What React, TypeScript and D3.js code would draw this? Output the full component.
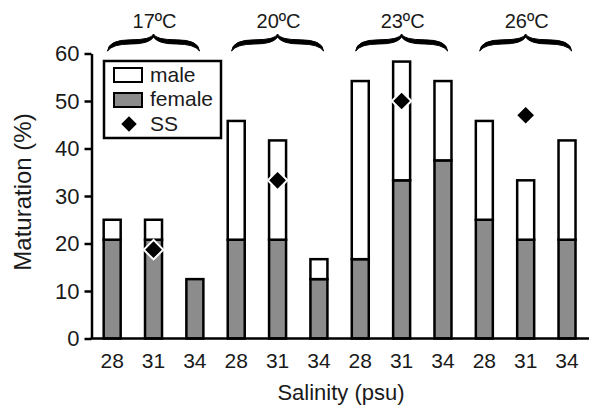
import { axisLeft, scaleBand, scaleLinear, select, symbol, symbolSquare } from 'd3';
import { useEffect, useRef } from 'react';

// groups of bars: temperature x salinity
const temps = ['17ºC', '20ºC', '23ºC', '26ºC'];
const salinities = ['28', '31', '34'];
// % mature, stacked: female at the bottom, male on top
const female = [20.8, 20.8, 12.5, 20.8, 20.8, 12.5, 16.7, 33.3, 37.5, 25, 20.8, 20.8];
const male = [4.2, 4.2, 0, 25, 20.9, 4.2, 37.5, 25, 16.7, 20.8, 12.5, 20.9];
// SS markers, only at salinity 31
const ssValues = [18.7, 33.3, 50, 47];
const yTicks = [0, 10, 20, 30, 40, 50, 60];

const W = 589;
const H = 410;
const FONT = '"Liberation Sans", Arial, sans-serif';

const keys = temps.flatMap((t) => salinities.map((s) => `${t}-${s}`));

const bracePath = (x1, x2) => {
  const mid = (x1 + x2) / 2;
  const q = (x2 - x1) / 4;
  const y0 = 51;
  const y1 = 42;
  const y2 = 34;
  return [
    `M${x1},${y0}`,
    `Q${x1 + 1},${y1 - 2.2} ${x1 + q},${y1 - 2.2}`,
    `Q${mid - 2},${y1 - 2.2} ${mid},${y2}`,
    `Q${mid + 2},${y1 - 2.2} ${x2 - q},${y1 - 2.2}`,
    `Q${x2 - 1},${y1 - 2.2} ${x2},${y0}`,
    `Q${x2 - 5},${y1 + 2} ${x2 - q},${y1 + 2}`,
    `Q${mid + 4},${y1 + 2} ${mid},${y2 + 3}`,
    `Q${mid - 4},${y1 + 2} ${x1 + q},${y1 + 2}`,
    `Q${x1 + 5},${y1 + 2} ${x1},${y0}`,
    'Z',
  ].join(' ');
};

const App = () => {
  const svgRef = useRef(null);

  useEffect(() => {
    const svg = select(svgRef.current);
    svg.selectAll('*').remove();

    const axisX = 91.5;
    const x = scaleBand()
      .domain(keys)
      .range([axisX, axisX + 12 * 41.35])
      .paddingInner(0.589)
      .paddingOuter(0.2945);
    const y = scaleLinear().domain([0, 60]).range([338.5, 53.5]);

    // y axis
    const yAxis = svg
      .append('g')
      .attr('transform', `translate(${axisX},0)`)
      .call(axisLeft(y).tickValues(yTicks).tickSize(7).tickSizeOuter(0).tickPadding(5));
    yAxis.select('.domain').attr('stroke', '#000').attr('stroke-width', 2.5);
    yAxis.selectAll('.tick line').attr('stroke', '#000').attr('stroke-width', 2.5);
    yAxis
      .selectAll('.tick text')
      .attr('fill', '#1a1a1a')
      .style('font-family', FONT)
      .style('font-size', '22px');

    // bars
    const bars = svg.append('g');
    keys.forEach((k, i) => {
      const x0 = x(k);
      bars
        .append('rect')
        .attr('x', x0)
        .attr('width', x.bandwidth())
        .attr('y', y(female[i]))
        .attr('height', y(0) - y(female[i]))
        .attr('fill', '#8c8c8c')
        .attr('stroke', '#000')
        .attr('stroke-width', 2.5);
      if (male[i] > 0) {
        bars
          .append('rect')
          .attr('x', x0)
          .attr('width', x.bandwidth())
          .attr('y', y(female[i] + male[i]))
          .attr('height', y(female[i]) - y(female[i] + male[i]))
          .attr('fill', '#fff')
          .attr('stroke', '#000')
          .attr('stroke-width', 2.5);
      }
    });

    // x axis baseline
    svg
      .append('line')
      .attr('x1', axisX - 1)
      .attr('x2', W)
      .attr('y1', y(0))
      .attr('y2', y(0))
      .attr('stroke', '#000')
      .attr('stroke-width', 2.5);

    // salinity labels
    svg
      .append('g')
      .selectAll('text')
      .data(keys)
      .join('text')
      .attr('x', (d) => x(d) + x.bandwidth() / 2)
      .attr('y', 368)
      .attr('text-anchor', 'middle')
      .style('font-family', FONT)
      .style('font-size', '21px')
      .attr('fill', '#1a1a1a')
      .text((d) => d.split('-')[1]);

    // SS diamonds
    const diamond = symbol().type(symbolSquare).size(190);
    svg
      .append('g')
      .selectAll('path')
      .data(temps)
      .join('path')
      .attr('d', diamond)
      .attr(
        'transform',
        (t, i) => `translate(${x(`${t}-31`) + x.bandwidth() / 2},${y(ssValues[i])}) rotate(45)`
      )
      .attr('fill', '#000')
      .attr('stroke', '#fff')
      .attr('stroke-width', 2);

    // temperature braces
    temps.forEach((t) => {
      const cx = x(`${t}-31`) + x.bandwidth() / 2;
      svg
        .append('path')
        .attr('d', bracePath(cx - 46, cx + 46))
        .attr('fill', '#000')
        .attr('stroke', '#000')
        .attr('stroke-width', 1)
        .attr('stroke-linejoin', 'round');
      svg
        .append('text')
        .attr('x', cx + 1)
        .attr('y', 28)
        .attr('text-anchor', 'middle')
        .style('font-family', FONT)
        .style('font-size', '20px')
        .attr('fill', '#1a1a1a')
        .text(t);
    });

    // legend
    const lg = svg.append('g');
    lg.append('rect')
      .attr('x', 104)
      .attr('y', 61)
      .attr('width', 117)
      .attr('height', 77)
      .attr('fill', '#fff')
      .attr('stroke', '#000')
      .attr('stroke-width', 2.5);
    lg.append('rect')
      .attr('x', 114)
      .attr('y', 68)
      .attr('width', 28)
      .attr('height', 14)
      .attr('fill', '#fff')
      .attr('stroke', '#000')
      .attr('stroke-width', 2);
    lg.append('rect')
      .attr('x', 114)
      .attr('y', 93)
      .attr('width', 28)
      .attr('height', 14)
      .attr('fill', '#8c8c8c')
      .attr('stroke', '#000')
      .attr('stroke-width', 2);
    lg.append('path')
      .attr('d', symbol().type(symbolSquare).size(120)())
      .attr('transform', 'translate(129,124) rotate(45)')
      .attr('fill', '#000');
    [
      ['male', 82],
      ['female', 106],
      ['SS', 131],
    ].forEach(([label, ly]) => {
      lg.append('text')
        .attr('x', 150)
        .attr('y', ly)
        .style('font-family', FONT)
        .style('font-size', '21px')
        .attr('fill', '#1a1a1a')
        .text(label);
    });

    // axis titles
    svg
      .append('text')
      .attr('x', 341)
      .attr('y', 400)
      .attr('text-anchor', 'middle')
      .style('font-family', FONT)
      .style('font-size', '22px')
      .attr('fill', '#1a1a1a')
      .text('Salinity (psu)');
    svg
      .append('text')
      .attr('transform', 'translate(31,192) rotate(-90)')
      .attr('text-anchor', 'middle')
      .style('font-family', FONT)
      .style('font-size', '24px')
      .attr('fill', '#1a1a1a')
      .text('Maturation (%)');
  }, []);

  return (
    <svg
      ref={svgRef}
      width={W}
      height={H}
      style={{ position: 'absolute', left: 0, top: 0, background: '#fff' }}
    />
  );
};

export default App;
